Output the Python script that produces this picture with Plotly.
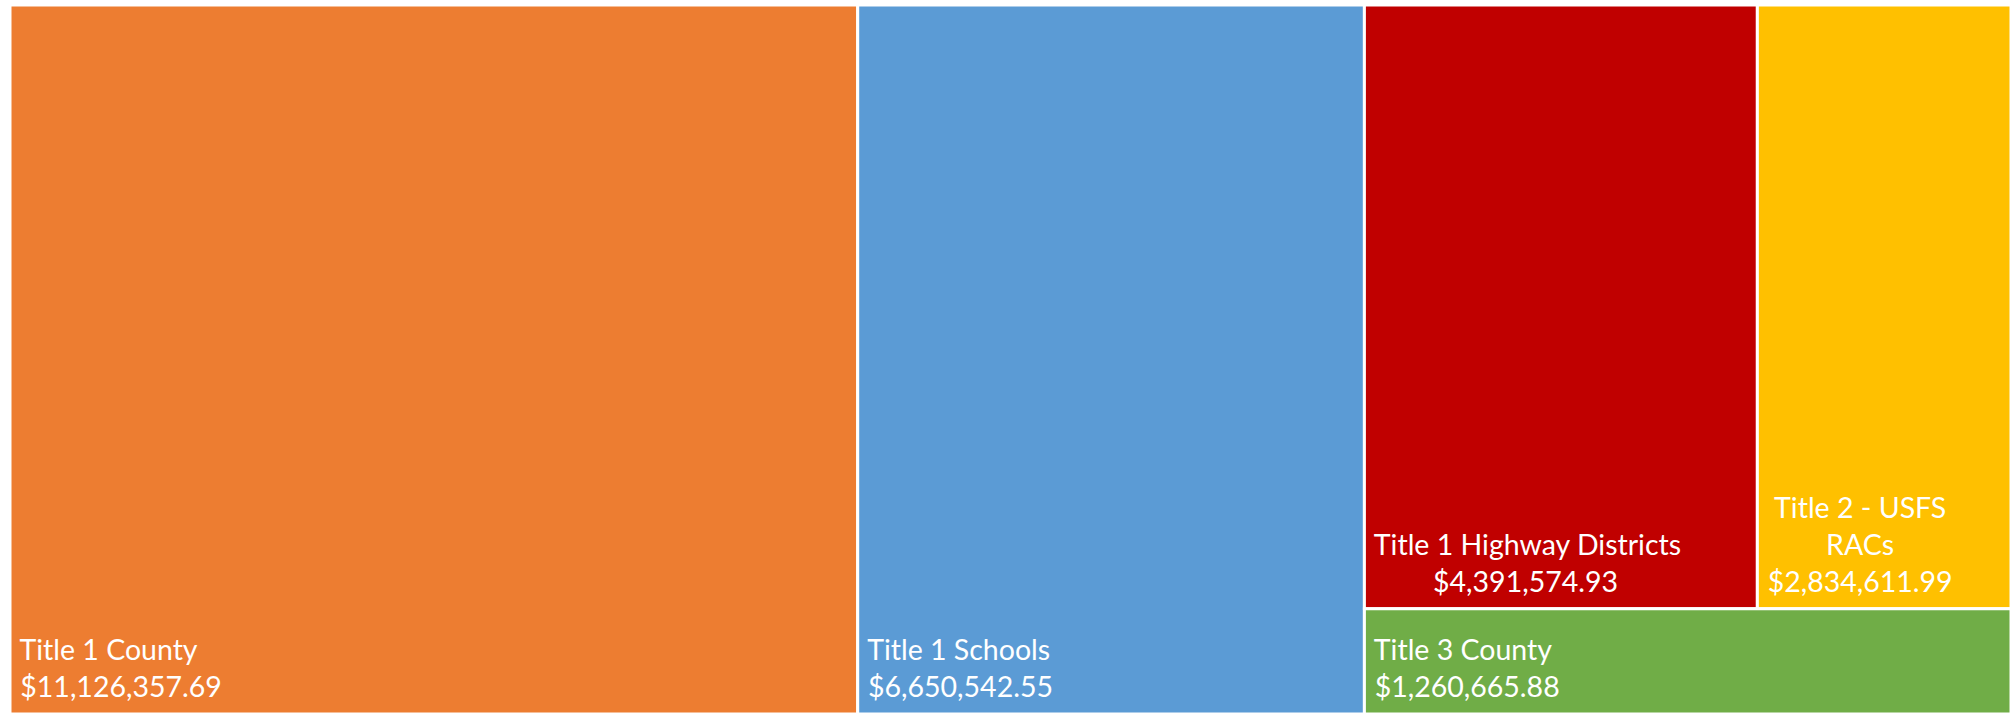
import plotly.graph_objects as go

# Secure Rural Schools payments by program
programs = [
    "Title 1 County",
    "Title 1 Schools",
    "Title 1 Highway Districts",
    "Title 2 - USFS RACs",
    "Title 3 County",
]
amounts = [11126357.69, 6650542.55, 4391574.93, 2834611.99, 1260665.88]
colors = ["#ED7D31", "#5B9BD5", "#C00000", "#FFC000", "#70AD47"]

# How each name is broken into lines inside its tile
label_lines = [
    ["Title 1 County"],
    ["Title 1 Schools"],
    ["Title 1 Highway Districts"],
    ["Title 2 - USFS", "RACs"],
    ["Title 3 County"],
]

# Leading non-breaking spaces so short lines sit centred under long ones
NBSP = "\u00a0"
BASE_INDENT = 1
line_indents = [[0], [0], [0], [1, 8], [0]]
value_indents = [0, 0, 8, 0, 0]

# Invisible spacer after the amount lifts the label block off the tile bottom
BOTTOM_SPACER = "<sub><span style='font-size:38px'>" + NBSP + "</span></sub>"

tile_text = [
    "<br>".join(NBSP * (BASE_INDENT + ind) + line for line, ind in zip(lines, inds))
    for lines, inds in zip(label_lines, line_indents)
]
tile_templates = [
    "%{text}<br>" + NBSP * (BASE_INDENT + ind) + "%{value:$,.2f}" + BOTTOM_SPACER
    for ind in value_indents
]

fig = go.Figure(
    go.Treemap(
        labels=programs,
        parents=[""] * len(programs),
        values=amounts,
        text=tile_text,
        texttemplate=tile_templates,
        textposition="bottom left",
        textfont=dict(family="Lato", size=28.5, color="white"),
        marker=dict(colors=colors, line=dict(color="white", width=3),
                    pad=dict(t=0, l=0, r=0, b=0)),
        tiling=dict(packing="squarify", squarifyratio=1.3, pad=0),
        pathbar=dict(visible=False),
        hovertemplate="%{label}<br>%{value:$,.2f}<extra></extra>",
        sort=True,
    )
)

fig.update_layout(
    width=2011,
    height=715,
    margin=dict(l=10, r=0, t=5, b=1),
    paper_bgcolor="white",
    plot_bgcolor="white",
)

fig.write_html("out.html")
